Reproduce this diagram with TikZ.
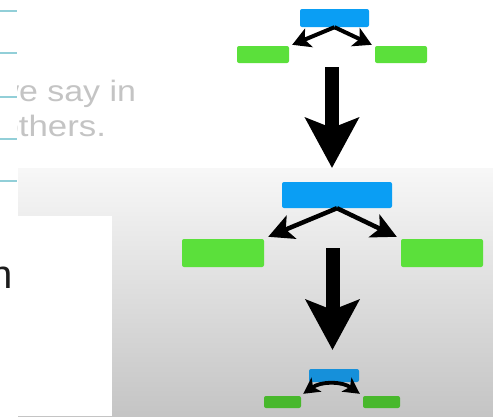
\documentclass[tikz,border=0pt]{standalone}
\usepackage{fontspec}
\setmainfont{Liberation Sans}
\usetikzlibrary{arrows.meta,calc}

\definecolor{boxblue}{HTML}{0A9EF4}
\definecolor{boxblueB}{HTML}{1690DA}
\definecolor{boxgreen}{HTML}{5BE03B}
\definecolor{boxgreenB}{HTML}{48B82C}
\definecolor{rule}{HTML}{92CFD8}
\definecolor{fadedtext}{HTML}{C4C4C4}
\definecolor{inktext}{HTML}{1C1C1C}

\tikzset{
  box/.style={rectangle, rounded corners=2pt, inner sep=0pt, draw=none},
  parent/.style={box, fill=boxblue},
  child/.style={box, fill=boxgreen},
  parentB/.style={box, fill=boxblueB},
  childB/.style={box, fill=boxgreenB},
  splitS/.style={line width=4pt, -{Stealth[length=18pt,width=20pt,inset=4.5pt]}},
  splitM/.style={line width=4.5pt, -{Stealth[length=25pt,width=25pt,inset=6pt]}},
  splitT/.style={line width=3.8pt, {Stealth[length=16pt,width=17pt,inset=4pt]}-{Stealth[length=16pt,width=17pt,inset=4pt]}},
  bigarrow/.style={line width=14pt, -{Stealth[length=50pt,width=53pt,inset=10pt]}},
  ruleline/.style={rule, line width=1.5pt},
}

\begin{document}
\begin{tikzpicture}[x=1pt, y=-1pt]
  \useasboundingbox (0,0) rectangle (493,416);
  \fill[white] (0,0) rectangle (493,416);

  % grey panel behind the lower part
  \shade[top color=white!97!black, bottom color=white!77!black] (18,168) rectangle (493,416);
  \fill[white] (0,216) rectangle (112,416);

  % left margin rules
  \foreach \yy in {11,53,97,139,181} \draw[ruleline] (0,\yy) -- (17,\yy);

  % faded text, cut off at the rules
  \begin{scope}
    \clip (17,60) rectangle (170,160);
    \node[anchor=base west, inner sep=0pt, text=fadedtext, font=\fontsize{29.5}{29.5}\selectfont]
      (lineA) at (-5.6,101.5) {\scalebox{1.15}[1]{we say in}};
    \node[anchor=base west, inner sep=0pt, text=fadedtext, font=\fontsize{29.5}{29.5}\selectfont]
      (lineB) at (-0.6,136) {\scalebox{1.18}[1]{others.}};
  \end{scope}

  \node[anchor=base east, inner sep=0pt, text=inktext, font=\fontsize{40}{40}\selectfont]
    (frag) at (12.8,288) {n};

  % top tree
  \node[parent, minimum width=69pt, minimum height=18pt] (b1) at (334.5,18) {};
  \node[child, minimum width=52pt, minimum height=17pt] (g1l) at (263,54.5) {};
  \node[child, minimum width=52pt, minimum height=17pt] (g1r) at (401,54.5) {};
  \draw[splitS] (b1.south) -- ($(g1l.north east)+(3,-1)$);
  \draw[splitS] (b1.south) -- ($(g1r.north west)+(-3,-1)$);

  % middle tree
  \node[parent, minimum width=110pt, minimum height=26pt] (b2) at (337,195) {};
  \node[child, minimum width=82pt, minimum height=28pt] (g2l) at (223,253) {};
  \node[child, minimum width=82pt, minimum height=28pt] (g2r) at (442,253) {};
  \draw[splitM] (b2.south) -- ($(g2l.north east)+(4,-2)$);
  \draw[splitM] (b2.south) -- ($(g2r.north west)+(-4,-2)$);

  % bottom tree
  \node[parentB, minimum width=50pt, minimum height=13pt] (b3) at (334,375.5) {};
  \node[childB, minimum width=37pt, minimum height=12pt] (g3l) at (282.5,402) {};
  \node[childB, minimum width=37pt, minimum height=12pt] (g3r) at (381.5,402) {};
  \draw[splitT] ($(g3l.north east)+(2,-2)$) to[bend left=35] ($(g3r.north west)+(-3,-2)$);

  % big arrows between the trees
  \coordinate (s1) at (332,67);
  \coordinate (t1) at (332,168);
  \coordinate (s2) at (332.5,248);
  \coordinate (t2) at (332.5,350);
  \draw[bigarrow] (s1) -- (t1);
  \draw[bigarrow] (s2) -- (t2);
\end{tikzpicture}
\end{document}
